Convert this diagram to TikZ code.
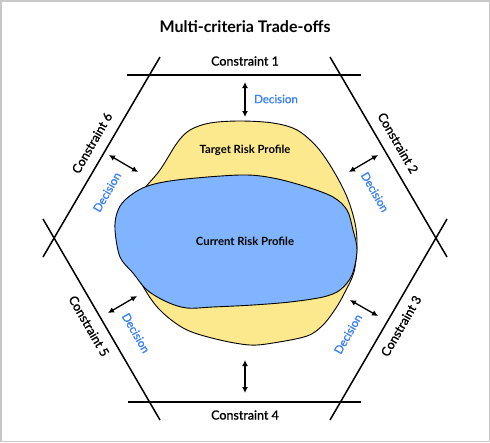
\documentclass[tikz,border=0pt]{standalone}
\usepackage{fontspec}
\setmainfont{Lato}
\newfontfamily\medfont{Lato}[FakeBold=1.2]
\usetikzlibrary{arrows.meta}
\definecolor{targetyel}{HTML}{FCE98D}
\definecolor{currblue}{HTML}{80B4FE}
\definecolor{decblue}{HTML}{3A80F8}
\definecolor{framegray}{HTML}{C8C8C8}
\begin{document}
\begin{tikzpicture}[x=1pt,y=-1pt,
  cline/.style={line width=1.5pt},
  darr/.style={{Latex[length=6pt,width=6pt]}-{Latex[length=6pt,width=6pt]}, line width=1.3pt},
  clabel/.style={font=\medfont\fontsize{12.5}{14}\selectfont, inner sep=0pt},
  dlabel/.style={font=\medfont\fontsize{11.5}{13}\selectfont, text=decblue, inner sep=0pt},
  plabel/.style={font=\bfseries\fontsize{11.3}{13}\selectfont, inner sep=0pt},
  blob/.style={draw=black, line width=0.9pt}]
\useasboundingbox (0,0) rectangle (490,442);
\draw[draw=framegray, line width=1.5pt] (0.75,0.75) rectangle (489.25,441.25);

\node[font=\bfseries\fontsize{16}{18}\selectfont] (title) at (245,27) {Multi-criteria Trade-offs};

% constraint lines
\coordinate (c1a) at (127,75);  \coordinate (c1b) at (361,75);
\coordinate (c4a) at (128,402); \coordinate (c4b) at (361,402);
\coordinate (c6a) at (160,57);  \coordinate (c6b) at (43,257);
\coordinate (c5a) at (43,219);  \coordinate (c5b) at (160,420);
\coordinate (c2a) at (330,57);  \coordinate (c2b) at (447,257);
\coordinate (c3a) at (447,219); \coordinate (c3b) at (330,420);
\draw[cline] (c1a) -- (c1b);
\draw[cline] (c4a) -- (c4b);
\draw[cline] (c6a) -- (c6b);
\draw[cline] (c5a) -- (c5b);
\draw[cline] (c2a) -- (c2b);
\draw[cline] (c3a) -- (c3b);

% target risk profile
\draw[blob, fill=targetyel] plot[smooth cycle, tension=0.55] coordinates {
 (190,130) (210,123) (240,121) (273,123) (297,130) (317,147) (333,170) (347,197)
 (355,223) (357,245) (354,272) (345,292) (336,308) (323,325) (307,336) (273,343)
 (250,345) (220,340) (187,330) (163,313) (147,293) (130,260) (125,230) (140,195)
 (160,170) (177,143)};
% current risk profile
\draw[blob, fill=currblue] plot[smooth cycle, tension=0.55] coordinates {
 (145,187) (177,180) (240,175) (273,178) (307,187) (333,197) (347,210) (353,230)
 (357,250) (352,275) (340,290) (323,297) (290,302) (253,305) (213,307) (187,308)
 (167,302) (147,290) (133,273) (120,257) (115,230) (117,213) (125,200)};

\node[plabel] (target) at (245,150) {Target Risk Profile};
\node[plabel] (current) at (245,241) {Current Risk Profile};

% constraint labels
\node[clabel] (l1) at (245,61) {Constraint 1};
\node[clabel] (l4) at (245,415) {Constraint 4};
\node[clabel, rotate=60] (l6) at (92,143) {Constraint 6};
\node[clabel, rotate=-60] (l2) at (398,143) {Constraint 2};
\node[clabel, rotate=-60] (l5) at (89,326) {Constraint 5};
\node[clabel, rotate=60] (l3) at (401,326) {Constraint 3};

% decision arrows
\coordinate (a1s) at (245,82);  \coordinate (a1e) at (245,117);
\coordinate (a4s) at (245,360); \coordinate (a4e) at (245,393);
\coordinate (a6s) at (109,155); \coordinate (a6e) at (138,172);
\coordinate (a2s) at (349,172); \coordinate (a2e) at (378,155);
\coordinate (a5s) at (108,313); \coordinate (a5e) at (137,296);
\coordinate (a3s) at (350,300); \coordinate (a3e) at (378,316);
\draw[darr] (a1s) -- (a1e);
\draw[darr] (a4s) -- (a4e);
\draw[darr] (a6s) -- (a6e);
\draw[darr] (a2s) -- (a2e);
\draw[darr] (a5s) -- (a5e);
\draw[darr] (a3s) -- (a3e);

% decision labels
\node[dlabel] (d1) at (276,99) {Decision};
\node[dlabel, rotate=60] (d6) at (107,192) {Decision};
\node[dlabel, rotate=-60] (d2) at (375,192) {Decision};
\node[dlabel, rotate=-60] (d5) at (136,333) {Decision};
\node[dlabel, rotate=60] (d3) at (348,334) {Decision};
\end{tikzpicture}
\end{document}
